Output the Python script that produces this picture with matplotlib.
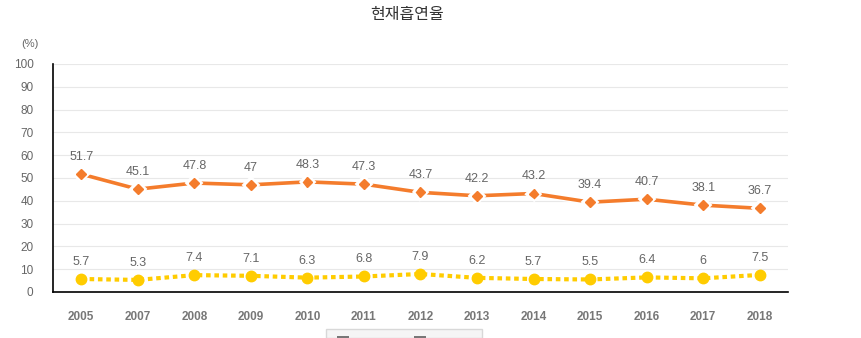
import matplotlib
matplotlib.use("Agg")
import matplotlib.pyplot as plt
import matplotlib.patheffects as pe
from matplotlib.patches import Rectangle

plt.rcParams["font.family"] = ["Liberation Sans", "Noto Sans CJK KR", "DejaVu Sans"]

years = ["2005", "2007", "2008", "2009", "2010", "2011", "2012",
         "2013", "2014", "2015", "2016", "2017", "2018"]
male = [51.7, 45.1, 47.8, 47, 48.3, 47.3, 43.7, 42.2, 43.2, 39.4, 40.7, 38.1, 36.7]
female = [5.7, 5.3, 7.4, 7.1, 6.3, 6.8, 7.9, 6.2, 5.7, 5.5, 6.4, 6, 7.5]
y_ticks = [0, 10, 20, 30, 40, 50, 60, 70, 80, 90, 100]

ORANGE = "#f47c2c"
YELLOW = "#ffcc00"
GREY = "#666666"

fig = plt.figure(figsize=(8.62, 3.38), dpi=100)
ax = fig.add_axes([53 / 862, 46 / 338, 735 / 862, 228 / 338])

x = list(range(len(years)))
halo = [pe.Stroke(linewidth=4.5, foreground="white"), pe.Normal()]
ax.plot(x, male, color=ORANGE, lw=2.6, marker="D", ms=5,
        path_effects=halo, zorder=3, clip_on=False)
ax.plot(x, female, color=YELLOW, lw=3, ls=(0, (1.1, 0.9)), marker="o", ms=7.5,
        zorder=3, clip_on=False)

for xi, v in zip(x, male):
    ax.annotate(f"{v:g}", (xi, v), xytext=(0, 8), textcoords="offset points",
                ha="center", va="bottom", color=GREY, fontsize=9)
for xi, v in zip(x, female):
    ax.annotate(f"{v:g}", (xi, v), xytext=(0, 8), textcoords="offset points",
                ha="center", va="bottom", color=GREY, fontsize=9)

ax.set_xlim(-0.5, len(years) - 0.5)
ax.set_ylim(0, 100)
ax.set_yticks(y_ticks)
ax.set_xticks(x)
ax.set_xticklabels(years)
ax.tick_params(axis="both", length=0, colors=GREY, labelsize=8.5)
ax.tick_params(axis="x", pad=14)
ax.tick_params(axis="y", pad=14)
for lbl in ax.get_xticklabels():
    lbl.set_fontweight("bold")
    lbl.set_color("#777777")
ax.grid(axis="y", color="#e8e8e8", lw=0.8)
ax.set_axisbelow(True)
for side in ("top", "right"):
    ax.spines[side].set_visible(False)
for side in ("left", "bottom"):
    ax.spines[side].set_color("black")
    ax.spines[side].set_linewidth(1.2)

fig.text(407 / 862, 1 - 15 / 338, "현재흡연율", ha="center", va="center",
         fontsize=11.5, color="#333333", family=["Noto Sans CJK KR", "DejaVu Sans"])
fig.text(30 / 862, 1 - 44 / 338, "(%)", ha="center", va="center",
         fontsize=8, color=GREY)

# legend box, cut off by the bottom edge as in the source
fig.patches.append(Rectangle((326 / 862, 0), 156 / 862, 9 / 338,
                             transform=fig.transFigure, facecolor="#f5f5f5",
                             edgecolor="#d8d8d8", lw=1))
for lx in (337, 414):
    fig.patches.append(Rectangle((lx / 862, -6 / 338), 12 / 862, 8 / 338,
                                 transform=fig.transFigure, facecolor="#777777",
                                 edgecolor="none"))

fig.savefig("out.png", dpi=100)
